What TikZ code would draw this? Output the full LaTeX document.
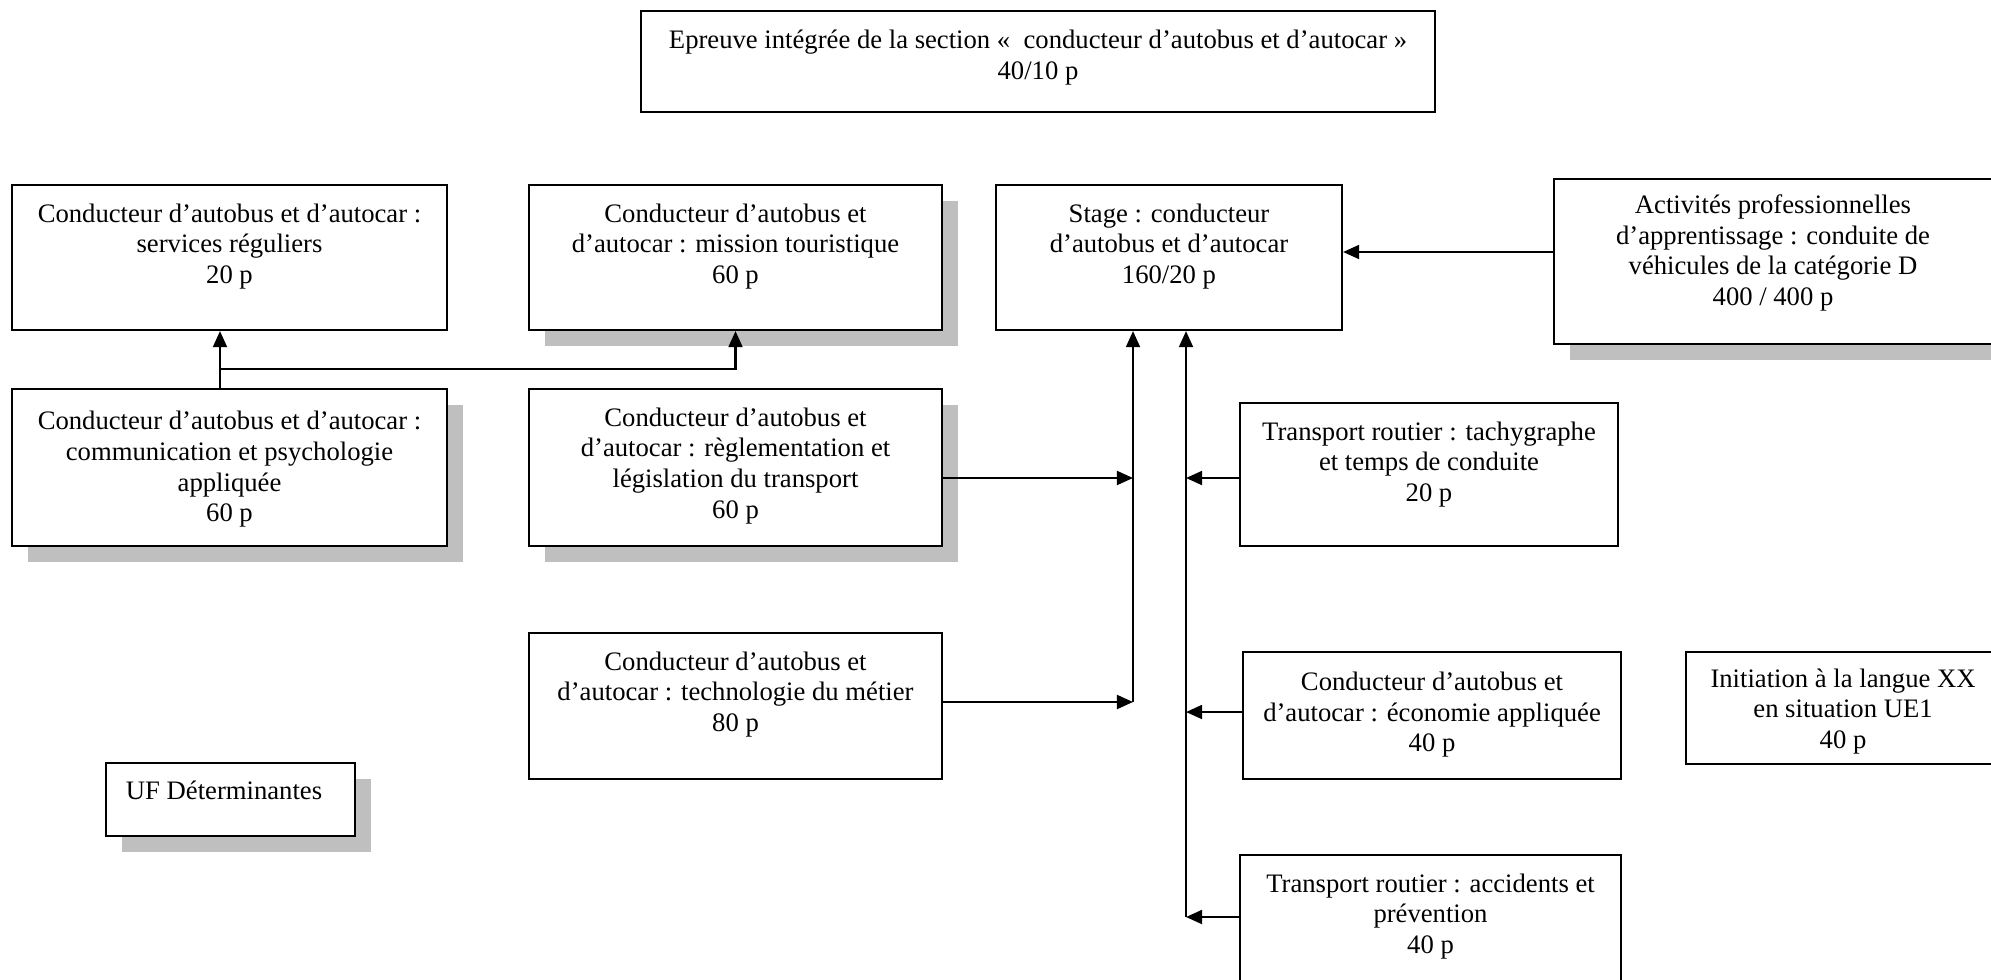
\documentclass[tikz,border=0pt]{standalone}
\usepackage{fontspec}
\setmainfont{Liberation Serif}
\usetikzlibrary{arrows.meta,fit,calc}
\definecolor{shadowgray}{RGB}{191,191,191}
\begin{document}
\begin{tikzpicture}[x=0.467pt, y=-0.467pt,
  box/.style={draw, line width=1pt, fill=white, inner sep=0pt},
  shad/.style={preaction={fill=shadowgray, transform canvas={shift={(16,16)}}}},
  lbl/.style={anchor=north, inner sep=0pt, align=center, yshift=-9pt, font=\fontsize{12.45}{14.4}\selectfont, execute at begin node=\strut},
  arr/.style={line width=1pt, -{Triangle[length=7.5pt,width=6.5pt]}},
  ln/.style={line width=1pt}
]
\useasboundingbox (0,0) rectangle (1991,979);
\clip (0,0) rectangle (1991,979);

% top box
\node[box, fit={(641,11) (1435,112)}, label={[lbl]north:{Epreuve intégrée de la section «~ conducteur d’autobus et d’autocar »\\40/10 p}}] (T) {};

% row 1
\node[box, fit={(12,185) (447,330)}, label={[lbl]north:{Conducteur d’autobus et d’autocar :\\services réguliers\\20 p}}] (A) {};
\node[box, shad, fit={(529,185) (942,330)}, label={[lbl]north:{Conducteur d’autobus et\\d’autocar : mission touristique\\60 p}}] (C) {};
\node[box, fit={(996,185) (1342,330)}, label={[lbl]north:{Stage : conducteur\\d’autobus et d’autocar\\160/20 p}}] (E) {};
\node[box, shad, fit={(1554,179) (1992,344)}, label={[lbl, yshift=1.5pt]north:{Activités professionnelles\\d’apprentissage : conduite de\\véhicules de la catégorie D\\400 / 400 p}}] (F) {};

% row 2
\node[box, shad, fit={(12,389) (447,546)}, label={[lbl, yshift=-1.5pt]north:{Conducteur d’autobus et d’autocar :\\communication et psychologie\\appliquée\\60 p}}] (B) {};
\node[box, shad, fit={(529,389) (942,546)}, label={[lbl]north:{Conducteur d’autobus et\\d’autocar : règlementation et\\législation du transport\\60 p}}] (D) {};
\node[box, fit={(1240,403) (1618,546)}, label={[lbl]north:{Transport routier : tachygraphe\\et temps de conduite\\20 p}}] (G) {};

% row 3
\node[box, fit={(529,633) (942,779)}, label={[lbl]north:{Conducteur d’autobus et\\d’autocar : technologie du métier\\80 p}}] (H) {};
\node[box, fit={(1243,652) (1621,779)}, label={[lbl, yshift=-0.5pt]north:{Conducteur d’autobus et\\d’autocar : économie appliquée\\40 p}}] (I) {};
\node[box, fit={(1686,652) (2000,764)}, label={[lbl, yshift=1pt]north:{Initiation à la langue XX\\en situation UE1\\40 p}}] (J) {};
\node[box, shad, fit={(106,763) (355,836)}, label={[lbl, xshift=-3pt, yshift=1.8pt]north:{UF Déterminantes}}] (UF) {};

% row 4
\node[box, fit={(1240,855) (1621,1000)}, label={[lbl]north:{Transport routier : accidents et\\prévention\\40 p}}] (K) {};

% helper coordinates
\coordinate (j1) at (220,369);
\coordinate (v1) at (1133,702);
\coordinate (v2) at (1186,917);
\coordinate (r0) at (0,252);
\coordinate (r1) at (0,478);
\coordinate (r3) at (0,712);

% connectors
\draw[arr] (j1 |- B.north) -- (j1 |- A.south);
\draw[arr] (j1) -| (C.south);
\draw[arr] (F.west |- r0) -- (E.east |- r0);
\draw[arr] (v1) -- (v1 |- E.south);
\draw[arr] (v2) -- (v2 |- E.south);
\draw[arr] (D.east |- r1) -- (v1 |- r1);
\draw[arr] (H.east |- v1) -- (v1);
\draw[arr] (G.west |- r1) -- (v2 |- r1);
\draw[arr] (I.west |- r3) -- (v2 |- r3);
\draw[arr] (K.west |- v2) -- (v2);
\end{tikzpicture}
\end{document}
